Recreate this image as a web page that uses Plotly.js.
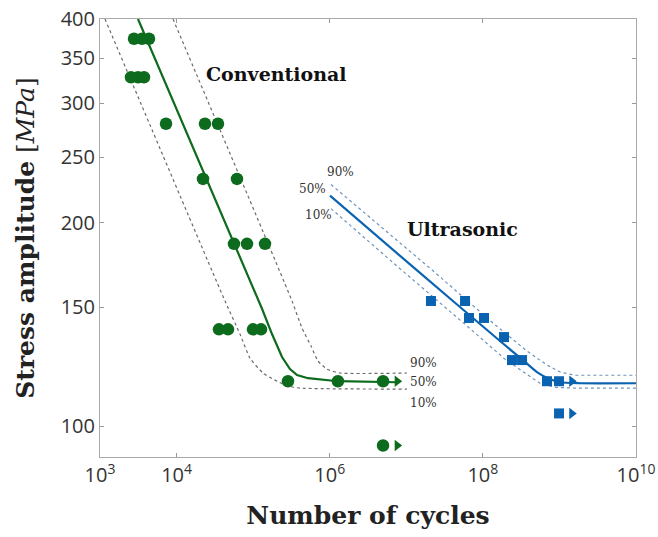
<!DOCTYPE html>
<html>
<head>
<meta charset="utf-8">
<script src="https://cdn.plot.ly/plotly-3.0.1.min.js"></script>
<style>html,body{margin:0;padding:0;background:#fff;}#chart{width:658px;height:537px;}</style>
</head>
<body>
<div id="chart"></div>
<script>
// ---- Test data: Conventional (green circles) ----
const convN = [2780, 3540, 4365, 2540, 3135, 3755, 7280, 23500, 34750, 22130, 61500, 56200, 83200, 142900, 35800, 46950, 99600, 126700, 285200, 1.28e6, 4.97e6, 4.97e6];
const convS = [374, 374, 374, 328, 328, 328, 280, 280, 280, 232, 232, 186, 186, 186, 139, 139, 139, 139, 116.5, 116.5, 116.5, 93.6];
const convRunoutN = [7.6e6, 7.6e6];
const convRunoutS = [116.5, 93.6];

// ---- Test data: Ultrasonic (blue squares) ----
const ultraN = [2.10e7, 5.85e7, 6.59e7, 1.035e8, 1.89e8, 2.40e8, 3.25e8, 6.88e8, 9.88e8, 9.88e8];
const ultraS = [153.1, 153.1, 144.5, 144.5, 135.4, 125.2, 125.2, 116.5, 116.5, 104.4];
const ultraRunoutN = [1.45e9, 1.45e9];
const ultraRunoutS = [116.5, 104.4];

// ---- Fitted curves ----
const conv50N = [3135, 96600, 130600, 176300, 238300, 302900, 374000, 520300, 746500, 1.28e6, 7.6e6];
const conv50S = [400, 162.3, 149.1, 136.8, 126.5, 121.4, 119.0, 117.7, 117.1, 116.5, 116.1];
const conv10N = [1162, 42900, 67300, 91000, 134600, 205000, 285200, 409000, 1.02e7];
const conv10S = [400, 153.1, 136.8, 126.0, 119.8, 116.5, 114.6, 113.8, 113.4];
const conv90N = [8980, 321800, 434600, 570000, 703000, 922000, 1.36e6, 1.02e7];
const conv90S = [400, 153.1, 139.6, 131.3, 124.8, 121.4, 119.8, 119.8];

const ultra50N = [1.009e6, 1.30e7, 1.675e8, 3.55e8, 5.09e8, 7.10e8, 1.018e9, 1.86e9, 1e10];
const ultra50S = [219.2, 170.9, 133.6, 124.4, 120.2, 117.7, 116.1, 115.7, 115.7];
const ultra90N = [1.04e6, 2.23e7, 1.358e8, 3.77e8, 6.89e8, 1.02e9, 1.60e9, 1e10];
const ultra90S = [227.6, 169.7, 142.0, 129.1, 123.1, 120.2, 118.9, 118.9];
const ultra10N = [1.04e6, 8.28e6, 6.21e7, 1.946e8, 3.55e8, 5.57e8, 8.75e8, 1.60e9, 1e10];
const ultra10S = [209.7, 170.9, 140.6, 125.6, 119.8, 115.7, 114.1, 113.8, 113.8];

// ---- Axis ticks ----
const xTickVals = [1e3, 1e4, 1e6, 1e8, 1e10];
const xTickText = ['10<sup>3</sup>', '10<sup>4</sup>', '10<sup>6</sup>', '10<sup>8</sup>', '10<sup>10</sup>'];
const yTickVals = [100, 150, 200, 250, 300, 350, 400];
const yTickText = ['100', '150', '200', '250', '300', '350', '400'];

const GREEN = '#0c6b1c';
const BLUE = '#0a63b0';
const GRAYDOT = '#6a6a6a';
const BLUEDOT = '#6f93bb';

const traces = [
  {x: conv10N, y: conv10S, mode: 'lines', line: {color: GRAYDOT, width: 1.2, dash: 'dot', shape: 'spline', smoothing: 0.5}, hoverinfo: 'skip'},
  {x: conv90N, y: conv90S, mode: 'lines', line: {color: GRAYDOT, width: 1.2, dash: 'dot', shape: 'spline', smoothing: 0.5}, hoverinfo: 'skip'},
  {x: ultra10N, y: ultra10S, mode: 'lines', line: {color: BLUEDOT, width: 1.2, dash: 'dot'}, hoverinfo: 'skip'},
  {x: ultra90N, y: ultra90S, mode: 'lines', line: {color: BLUEDOT, width: 1.2, dash: 'dot'}, hoverinfo: 'skip'},
  {x: conv50N, y: conv50S, mode: 'lines', line: {color: GREEN, width: 2.2}},
  {x: ultra50N, y: ultra50S, mode: 'lines', line: {color: BLUE, width: 2.2, shape: 'spline', smoothing: 0.6}},
  {x: convN, y: convS, mode: 'markers', marker: {symbol: 'circle', size: 12.5, color: GREEN}},
  {x: convRunoutN, y: convRunoutS, mode: 'markers', marker: {symbol: 'triangle-right', size: 10, color: GREEN}},
  {x: ultraN, y: ultraS, mode: 'markers', marker: {symbol: 'square', size: 10, color: BLUE}},
  {x: ultraRunoutN, y: ultraRunoutS, mode: 'markers', marker: {symbol: 'triangle-right', size: 10, color: BLUE}}
];

const serif = 'DejaVu Serif, Liberation Serif, serif';
const pctFont = {family: serif, size: 12, color: '#333'};

const annotations = [
  {text: '<b>Conventional</b>', x: 0.330, y: 0.874, font: {family: serif, size: 19, color: '#111'}},
  {text: '<b>Ultrasonic</b>', x: 0.677, y: 0.521, font: {family: serif, size: 19, color: '#111'}},
  {text: '90%', x: 0.604, y: 0.2146, font: pctFont},
  {text: '50%', x: 0.604, y: 0.171, font: pctFont},
  {text: '10%', x: 0.604, y: 0.123, font: pctFont},
  {text: '90%', x: 0.448, y: 0.651, font: pctFont},
  {text: '50%', x: 0.396, y: 0.612, font: pctFont},
  {text: '10%', x: 0.407, y: 0.553, font: pctFont}
].map(a => Object.assign({xref: 'paper', yref: 'paper', showarrow: false, xanchor: 'center', yanchor: 'middle'}, a));

const layout = {
  width: 658, height: 537,
  margin: {l: 100, r: 22, t: 19, b: 80},
  paper_bgcolor: '#fff', plot_bgcolor: '#fff',
  showlegend: false,
  font: {family: 'Open Sans, sans-serif', size: 20, color: '#333'},
  xaxis: {
    type: 'log', range: [3, 10],
    tickmode: 'array', tickvals: xTickVals, ticktext: xTickText,
    ticks: 'inside', ticklen: 4, tickcolor: '#999',
    showline: true, linecolor: '#aaa', linewidth: 1, mirror: 'ticks',
    showgrid: false, zeroline: false,
    tickfont: {family: 'Open Sans, sans-serif', size: 20, color: '#333'},
    title: {text: '<b>Number of cycles</b>', font: {family: serif, size: 25, color: '#222'}, standoff: 19}
  },
  yaxis: {
    type: 'log', range: [Math.log10(90), Math.log10(400)],
    tickmode: 'array', tickvals: yTickVals, ticktext: yTickText,
    ticks: 'inside', ticklen: 4, tickcolor: '#999',
    showline: true, linecolor: '#aaa', linewidth: 1, mirror: 'ticks',
    showgrid: false, zeroline: false,
    tickfont: {family: 'Open Sans, sans-serif', size: 20, color: '#333'},
    title: {text: '<b>Stress amplitude</b> [<i>MPa</i>]', font: {family: serif, size: 25, color: '#222'}, standoff: 18}
  },
  annotations: annotations
};

Plotly.newPlot('chart', traces, layout, {staticPlot: true, displayModeBar: false});
</script>
</body>
</html>
